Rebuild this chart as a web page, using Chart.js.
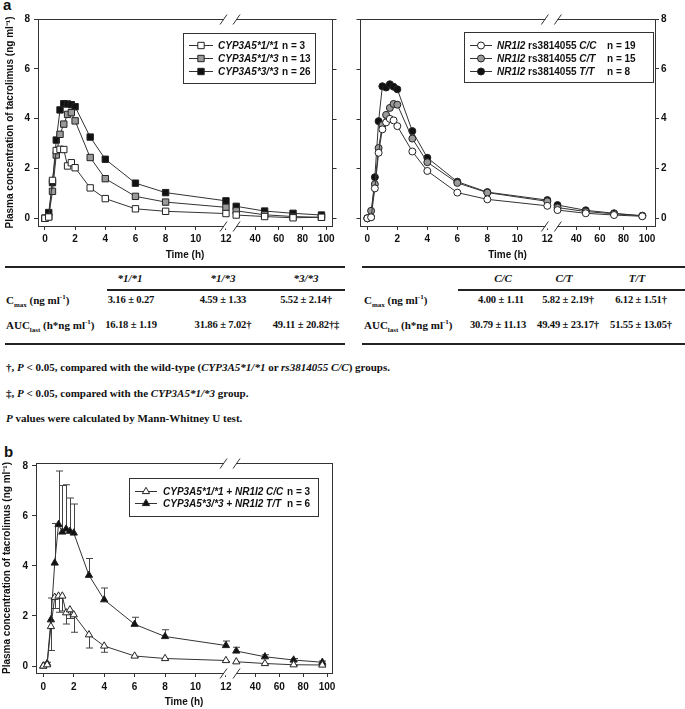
<!DOCTYPE html>
<html>
<head>
<meta charset="utf-8">
<script src="https://cdn.jsdelivr.net/npm/chart.js@4.4.1/dist/chart.umd.min.js"></script>
<style>
  body { margin: 0; background: #fff; }
  #page { position: relative; width: 685px; height: 709px; overflow: hidden; background: #fff; }
  canvas { position: absolute; }
  .lbl { position: absolute; font: bold 15px "Liberation Sans", Arial, sans-serif; color: #111; }
  .t { position: absolute; font: bold 11px "Liberation Serif", "Times New Roman", serif; color: #111; white-space: nowrap; line-height: 12px; }
  .v { font-size: 10.6px; letter-spacing: -0.15px; }
  .c { transform: translateX(-50%); }
  .rule { position: absolute; background: #222; height: 2px; }
  sub, sup { font-size: 7px; line-height: 0; }
</style>
</head>
<body>
<div id="page">
  <div class="lbl" style="left:3px;top:-4px">a</div>
  <canvas id="chartA1" width="340" height="262" style="left:0;top:0"></canvas>
  <canvas id="chartA2" width="345" height="262" style="left:340px;top:0"></canvas>

  <!-- table, left half -->
  <div class="rule" style="left:5px;top:266px;width:340px"></div>
  <div class="t c" style="left:130px;top:272px"><i>*1/*1</i></div>
  <div class="t c" style="left:223px;top:272px"><i>*1/*3</i></div>
  <div class="t c" style="left:306px;top:272px"><i>*3/*3</i></div>
  <div class="rule" style="left:107px;top:289px;width:238px"></div>
  <div class="t" style="left:6px;top:294px">C<sub>max</sub> (ng ml<sup>-1</sup>)</div>
  <div class="t v c" style="left:131px;top:294px">3.16 ± 0.27</div>
  <div class="t v c" style="left:223px;top:294px">4.59 ± 1.33</div>
  <div class="t v c" style="left:306px;top:294px">5.52 ± 2.14†</div>
  <div class="t" style="left:6px;top:319px">AUC<sub>last</sub> (h*ng ml<sup>-1</sup>)</div>
  <div class="t v c" style="left:131px;top:319px">16.18 ± 1.19</div>
  <div class="t v c" style="left:223px;top:319px">31.86 ± 7.02†</div>
  <div class="t v c" style="left:306px;top:319px">49.11 ± 20.82†‡</div>
  <div class="rule" style="left:5px;top:343px;width:340px"></div>

  <!-- table, right half -->
  <div class="rule" style="left:362px;top:266px;width:323px"></div>
  <div class="t c" style="left:503px;top:272px"><i>C/C</i></div>
  <div class="t c" style="left:564px;top:272px"><i>C/T</i></div>
  <div class="t c" style="left:637px;top:272px"><i>T/T</i></div>
  <div class="rule" style="left:458px;top:289px;width:227px"></div>
  <div class="t" style="left:364px;top:294px">C<sub>max</sub> (ng ml<sup>-1</sup>)</div>
  <div class="t v c" style="left:501px;top:294px">4.00 ± 1.11</div>
  <div class="t v c" style="left:568px;top:294px">5.82 ± 2.19†</div>
  <div class="t v c" style="left:641px;top:294px">6.12 ± 1.51†</div>
  <div class="t" style="left:364px;top:319px">AUC<sub>last</sub> (h*ng ml<sup>-1</sup>)</div>
  <div class="t v c" style="left:498px;top:319px">30.79 ± 11.13</div>
  <div class="t v c" style="left:568px;top:319px">49.49 ± 23.17†</div>
  <div class="t v c" style="left:641px;top:319px">51.55 ± 13.05†</div>
  <div class="rule" style="left:362px;top:343px;width:323px"></div>

  <div class="t" style="left:6px;top:361px">†, <i>P</i> &lt; 0.05, compared with the wild-type (<i>CYP3A5*1/*1</i> or <i>rs3814055 C/C</i>) groups.</div>
  <div class="t" style="left:6px;top:387px">‡, <i>P</i> &lt; 0.05, compared with the <i>CYP3A5*1/*3</i> group.</div>
  <div class="t" style="left:6px;top:412px"><i>P</i> values were calculated by Mann-Whitney U test.</div>

  <div class="lbl" style="left:4px;top:443px">b</div>
  <canvas id="chartB" width="345" height="269" style="left:0;top:440px"></canvas>
</div>

<script>
// sampling times (h)
var times = [0, 0.25, 0.5, 0.75, 1, 1.25, 1.5, 1.75, 2, 3, 4, 6, 8, 12, 24, 48, 72, 96];

// panel a, CYP3A5 genotypes (mean ng/ml)
var cyp11 = [0, 0.05, 1.52, 2.72, 2.77, 2.76, 2.1, 2.23, 2.03, 1.22, 0.79, 0.38, 0.28, 0.19, 0.13, 0.07, 0.02, 0.04];
var cyp13 = [0, 0.07, 1.08, 2.54, 3.37, 3.78, 4.17, 4.24, 3.91, 2.44, 1.59, 0.88, 0.65, 0.44, 0.3, 0.14, 0.07, 0.04];
var cyp33 = [0, 0.23, 1.43, 3.14, 4.35, 4.6, 4.59, 4.56, 4.48, 3.26, 2.37, 1.41, 1.03, 0.7, 0.48, 0.29, 0.2, 0.13];

// panel a, NR1I2 rs3814055 genotypes
var nrCC = [0, 0.04, 1.2, 2.63, 3.57, 3.85, 3.99, 3.93, 3.7, 2.68, 1.9, 1.03, 0.76, 0.5, 0.33, 0.2, 0.13, 0.08];
var nrCT = [0, 0.3, 1.37, 2.82, 3.74, 4.15, 4.43, 4.59, 4.56, 3.2, 2.25, 1.42, 1.03, 0.68, 0.43, 0.27, 0.18, 0.1];
var nrTT = [0, 0.05, 1.65, 3.9, 5.3, 5.25, 5.38, 5.28, 5.18, 3.5, 2.43, 1.47, 1.05, 0.73, 0.53, 0.32, 0.2, 0.1];

// panel b, combined genotypes, mean and SD
var comboWT = [0, 0.05, 1.58, 2.75, 2.8, 2.8, 2.13, 2.25, 2.05, 1.25, 0.8, 0.4, 0.3, 0.22, 0.17, 0.1, 0.05, 0.04];
var comboWTsd = [0, 0, 0.96, 0.45, 0.65, 0.6, 0.45, 0.35, 0.7, 0.53, 0.25, 0.05, 0.05, 0.04, 0.03, 0.02, 0.02, 0.02];
var comboTT = [0, 0.1, 1.85, 4.12, 5.66, 5.36, 5.48, 5.39, 5.32, 3.63, 2.65, 1.67, 1.18, 0.82, 0.6, 0.37, 0.24, 0.15];
var comboTTsd = [0, 0.05, 0.87, 1.58, 2.14, 1.86, 1.77, 1.33, 1.16, 0.67, 0.47, 0.28, 0.27, 0.18, 0.15, 0.08, 0.06, 0.05];

var xTickLabels = [0, 2, 4, 6, 8, 10, 12, 40, 60, 80, 100];
var yTickValues = [0, 2, 4, 6, 8];

var legendCyp = [[{t: 'CYP3A5*1/*1', i: 1}], [{t: 'CYP3A5*1/*3', i: 1}], [{t: 'CYP3A5*3/*3', i: 1}]];
var legendCypN = ['n = 3', 'n = 13', 'n = 26'];
var legendNr = [
  [{t: 'NR1I2', i: 1}, {t: ' rs3814055 ', i: 0}, {t: 'C/C', i: 1}],
  [{t: 'NR1I2', i: 1}, {t: ' rs3814055 ', i: 0}, {t: 'C/T', i: 1}],
  [{t: 'NR1I2', i: 1}, {t: ' rs3814055 ', i: 0}, {t: 'T/T', i: 1}]
];
var legendNrN = ['n = 19', 'n = 15', 'n = 8'];
var legendCombo = [[{t: 'CYP3A5*1/*1 + NR1I2 C/C', i: 1}], [{t: 'CYP3A5*3/*3 + NR1I2 T/T', i: 1}]];
var legendComboN = ['n = 3', 'n = 6'];

var FONT = '"Liberation Sans", Arial, sans-serif';
var INK = '#111';
var LINE = '#333';
var GREY = '#9a9a9a';

// broken time axis: 0-12 h linear, then compressed after the break
var BREAK_U = 12.27;
function axisPos(t) {
  return t <= 12 ? t : 12.68 + (t - 24) * 0.0785;
}

function series(vals) {
  return times.map(function (t, i) { return {x: axisPos(t), y: vals[i]}; });
}

function dataset(vals, style, fill, radius, extra) {
  var d = {
    data: series(vals),
    borderColor: LINE,
    borderWidth: 1,
    pointStyle: style,
    pointRadius: radius,
    pointBackgroundColor: fill,
    pointBorderColor: '#222',
    pointBorderWidth: 1,
    segment: {
      borderColor: function (c) { return (c.p0.parsed.x <= 12 && c.p1.parsed.x > 12.5) ? 'rgba(0,0,0,0)' : LINE; }
    }
  };
  for (var k in extra) d[k] = extra[k];
  return d;
}

// frame box, axis break marks, mirrored ticks
var framePlugin = {
  id: 'frameBreak',
  afterDraw: function (chart, args, o) {
    var a = chart.chartArea, ctx = chart.ctx;
    var L = Math.round(a.left) + 0.5, R = Math.round(a.right) + 0.5;
    var T = Math.round(a.top) + 0.5, B = Math.round(a.bottom) + 0.5;
    var bx = chart.scales.x.getPixelForValue(BREAK_U);
    ctx.save();
    ctx.strokeStyle = LINE;
    ctx.lineWidth = 1;
    ctx.strokeRect(L, T, R - L, B - T);
    if (o.mirror) {
      var edge = o.mirror === 'right' ? R : L;
      var dir = o.mirror === 'right' ? 1 : -1;
      ctx.beginPath();
      yTickValues.forEach(function (v) {
        var y = Math.round(chart.scales.y.getPixelForValue(v)) + 0.5;
        ctx.moveTo(edge, y);
        ctx.lineTo(edge + dir * 4, y);
      });
      ctx.stroke();
    }
    [T, B].forEach(function (y) {
      ctx.fillStyle = '#fff';
      ctx.fillRect(bx - 6, y - 2, 12, 4);
      ctx.beginPath();
      ctx.moveTo(bx - 10, y + 5);
      ctx.lineTo(bx - 3, y - 5);
      ctx.moveTo(bx + 3, y + 5);
      ctx.lineTo(bx + 10, y - 5);
      ctx.stroke();
    });
    ctx.restore();
  }
};

// SD bars (panel b)
var errorBarPlugin = {
  id: 'errorBars',
  beforeDatasetsDraw: function (chart) {
    var ctx = chart.ctx, ys = chart.scales.y;
    ctx.save();
    ctx.strokeStyle = '#444';
    ctx.lineWidth = 1;
    chart.data.datasets.forEach(function (ds, di) {
      if (!ds.sd) return;
      var meta = chart.getDatasetMeta(di);
      meta.data.forEach(function (pt, j) {
        var sd = ds.sd[j];
        if (!sd) return;
        var mean = ds.data[j].y;
        var yEnd = ys.getPixelForValue(mean + ds.sdDir * sd);
        var x = Math.round(pt.x) + 0.5;
        ctx.beginPath();
        ctx.moveTo(x, pt.y);
        ctx.lineTo(x, yEnd);
        ctx.moveTo(x - 3.5, yEnd);
        ctx.lineTo(x + 3.5, yEnd);
        ctx.stroke();
      });
    });
    ctx.restore();
  }
};

// boxed legend with mixed italic / upright text and an n column
var boxLegend = {
  id: 'boxLegend',
  afterDraw: function (chart, args, o) {
    if (!o.rows) return;
    var ctx = chart.ctx;
    ctx.save();
    ctx.strokeStyle = LINE;
    ctx.lineWidth = 1;
    ctx.strokeRect(o.box[0] + 0.5, o.box[1] + 0.5, o.box[2], o.box[3]);
    o.rows.forEach(function (row, i) {
      var ds = chart.data.datasets[i];
      var y = o.rowY[i];
      ctx.strokeStyle = LINE;
      ctx.beginPath();
      ctx.moveTo(o.lineX[0], y + 0.5);
      ctx.lineTo(o.lineX[1], y + 0.5);
      ctx.stroke();
      ctx.fillStyle = ds.pointBackgroundColor;
      ctx.strokeStyle = ds.pointBorderColor;
      Chart.helpers.drawPoint(ctx, {pointStyle: ds.pointStyle, radius: ds.pointRadius, borderWidth: 1, rotation: 0},
        (o.lineX[0] + o.lineX[1]) / 2, y + 0.5);
      ctx.fillStyle = INK;
      ctx.textBaseline = 'middle';
      var x = o.textX;
      row.forEach(function (seg) {
        ctx.font = (seg.i ? 'italic ' : '') + 'bold 10px ' + FONT;
        ctx.fillText(seg.t, x, y + 1);
        x += ctx.measureText(seg.t).width;
      });
      ctx.font = 'bold 10px ' + FONT;
      ctx.fillText(o.n[i], o.nX, y + 1);
    });
    ctx.restore();
  }
};

function makeOptions(cfg) {
  return {
    responsive: false,
    animation: false,
    devicePixelRatio: 1,
    layout: {padding: cfg.padding},
    plugins: {
      legend: {display: false},
      tooltip: {enabled: false},
      frameBreak: {mirror: cfg.mirror},
      boxLegend: cfg.legend
    },
    scales: {
      x: {
        type: 'linear',
        min: cfg.xMin, max: cfg.xMax,
        afterBuildTicks: function (s) { s.ticks = xTickLabels.map(function (t) { return {value: axisPos(t)}; }); },
        afterFit: function (s) { s.height = cfg.xHeight; },
        grid: {drawOnChartArea: false, drawTicks: true, tickLength: 4, color: LINE},
        border: {display: false},
        ticks: {
          autoSkip: false, maxRotation: 0, padding: cfg.xPad, color: INK,
          font: {family: FONT, size: 10, weight: 'bold'},
          callback: function (v, i) { return String(xTickLabels[i]); }
        },
        title: {display: true, text: 'Time (h)', color: INK, padding: {top: 0, bottom: cfg.xTitlePad},
          font: {family: FONT, size: 10, weight: 'bold'}}
      },
      y: {
        type: 'linear',
        position: cfg.yPos,
        min: cfg.yMin, max: cfg.yMax,
        afterBuildTicks: function (s) { s.ticks = yTickValues.map(function (v) { return {value: v}; }); },
        afterFit: function (s) { s.width = cfg.yWidth; },
        grid: {drawOnChartArea: false, drawTicks: true, tickLength: 4, color: LINE},
        border: {display: false},
        ticks: {padding: cfg.yPad, color: INK, font: {family: FONT, size: 10, weight: 'bold'},
          callback: function (v) { return String(v); }},
        title: {display: cfg.yTitle, text: 'Plasma concentration of tacrolimus (ng ml\u207B\u00B9)', color: INK,
          padding: {top: cfg.yTitlePad, bottom: 0}, font: {family: FONT, size: 10, weight: 'bold'}}
      }
    }
  };
}

var plugins = [framePlugin, errorBarPlugin, boxLegend];

new Chart(document.getElementById('chartA1'), {
  type: 'line',
  data: {datasets: [
    dataset(cyp11, 'rect', '#fff', 4.5),
    dataset(cyp13, 'rect', GREY, 4.5),
    dataset(cyp33, 'rect', INK, 4.5)
  ]},
  options: makeOptions({
    padding: {left: 0, right: 8, top: 19, bottom: 0},
    xMin: -0.46, xMax: 19.03, xHeight: 36, xPad: 3, xTitlePad: 1,
    yPos: 'left', yMin: -0.31, yMax: 8, yWidth: 38, yPad: 4, yTitle: true, yTitlePad: 4,
    mirror: 'right',
    legend: {box: [183, 33, 132, 50], rowY: [45, 58, 71], lineX: [189, 213], textX: 218, nX: 282,
      rows: legendCyp, n: legendCypN}
  }),
  plugins: plugins
});

new Chart(document.getElementById('chartA2'), {
  type: 'line',
  data: {datasets: [
    dataset(nrCC, 'circle', '#fff', 3.5),
    dataset(nrCT, 'circle', GREY, 3.5),
    dataset(nrTT, 'circle', INK, 3.5)
  ]},
  options: makeOptions({
    padding: {left: 20, right: 0, top: 19, bottom: 0},
    xMin: -0.49, xMax: 19.18, xHeight: 36, xPad: 3, xTitlePad: 1,
    yPos: 'right', yMin: -0.31, yMax: 8, yWidth: 30, yPad: 2, yTitle: false, yTitlePad: 0,
    mirror: 'left',
    legend: {box: [124, 32, 189, 50], rowY: [45, 58, 71], lineX: [130, 152], textX: 157, nX: 267,
      rows: legendNr, n: legendNrN}
  }),
  plugins: plugins
});

new Chart(document.getElementById('chartB'), {
  type: 'line',
  data: {datasets: [
    dataset(comboWT, 'triangle', '#fff', 4.2, {sd: comboWTsd, sdDir: -1}),
    dataset(comboTT, 'triangle', INK, 4.2, {sd: comboTTsd, sdDir: 1})
  ]},
  options: makeOptions({
    padding: {left: 0, right: 13, top: 23, bottom: 0},
    xMin: -0.48, xMax: 18.97, xHeight: 36, xPad: 4, xTitlePad: 1,
    yPos: 'left', yMin: -0.28, yMax: 8.12, yWidth: 36, yPad: 4, yTitle: true, yTitlePad: 1,
    mirror: null,
    legend: {box: [129, 38, 189, 38], rowY: [51, 63], lineX: [135, 157], textX: 163, nX: 287,
      rows: legendCombo, n: legendComboN}
  }),
  plugins: plugins
});
</script>
</body>
</html>
